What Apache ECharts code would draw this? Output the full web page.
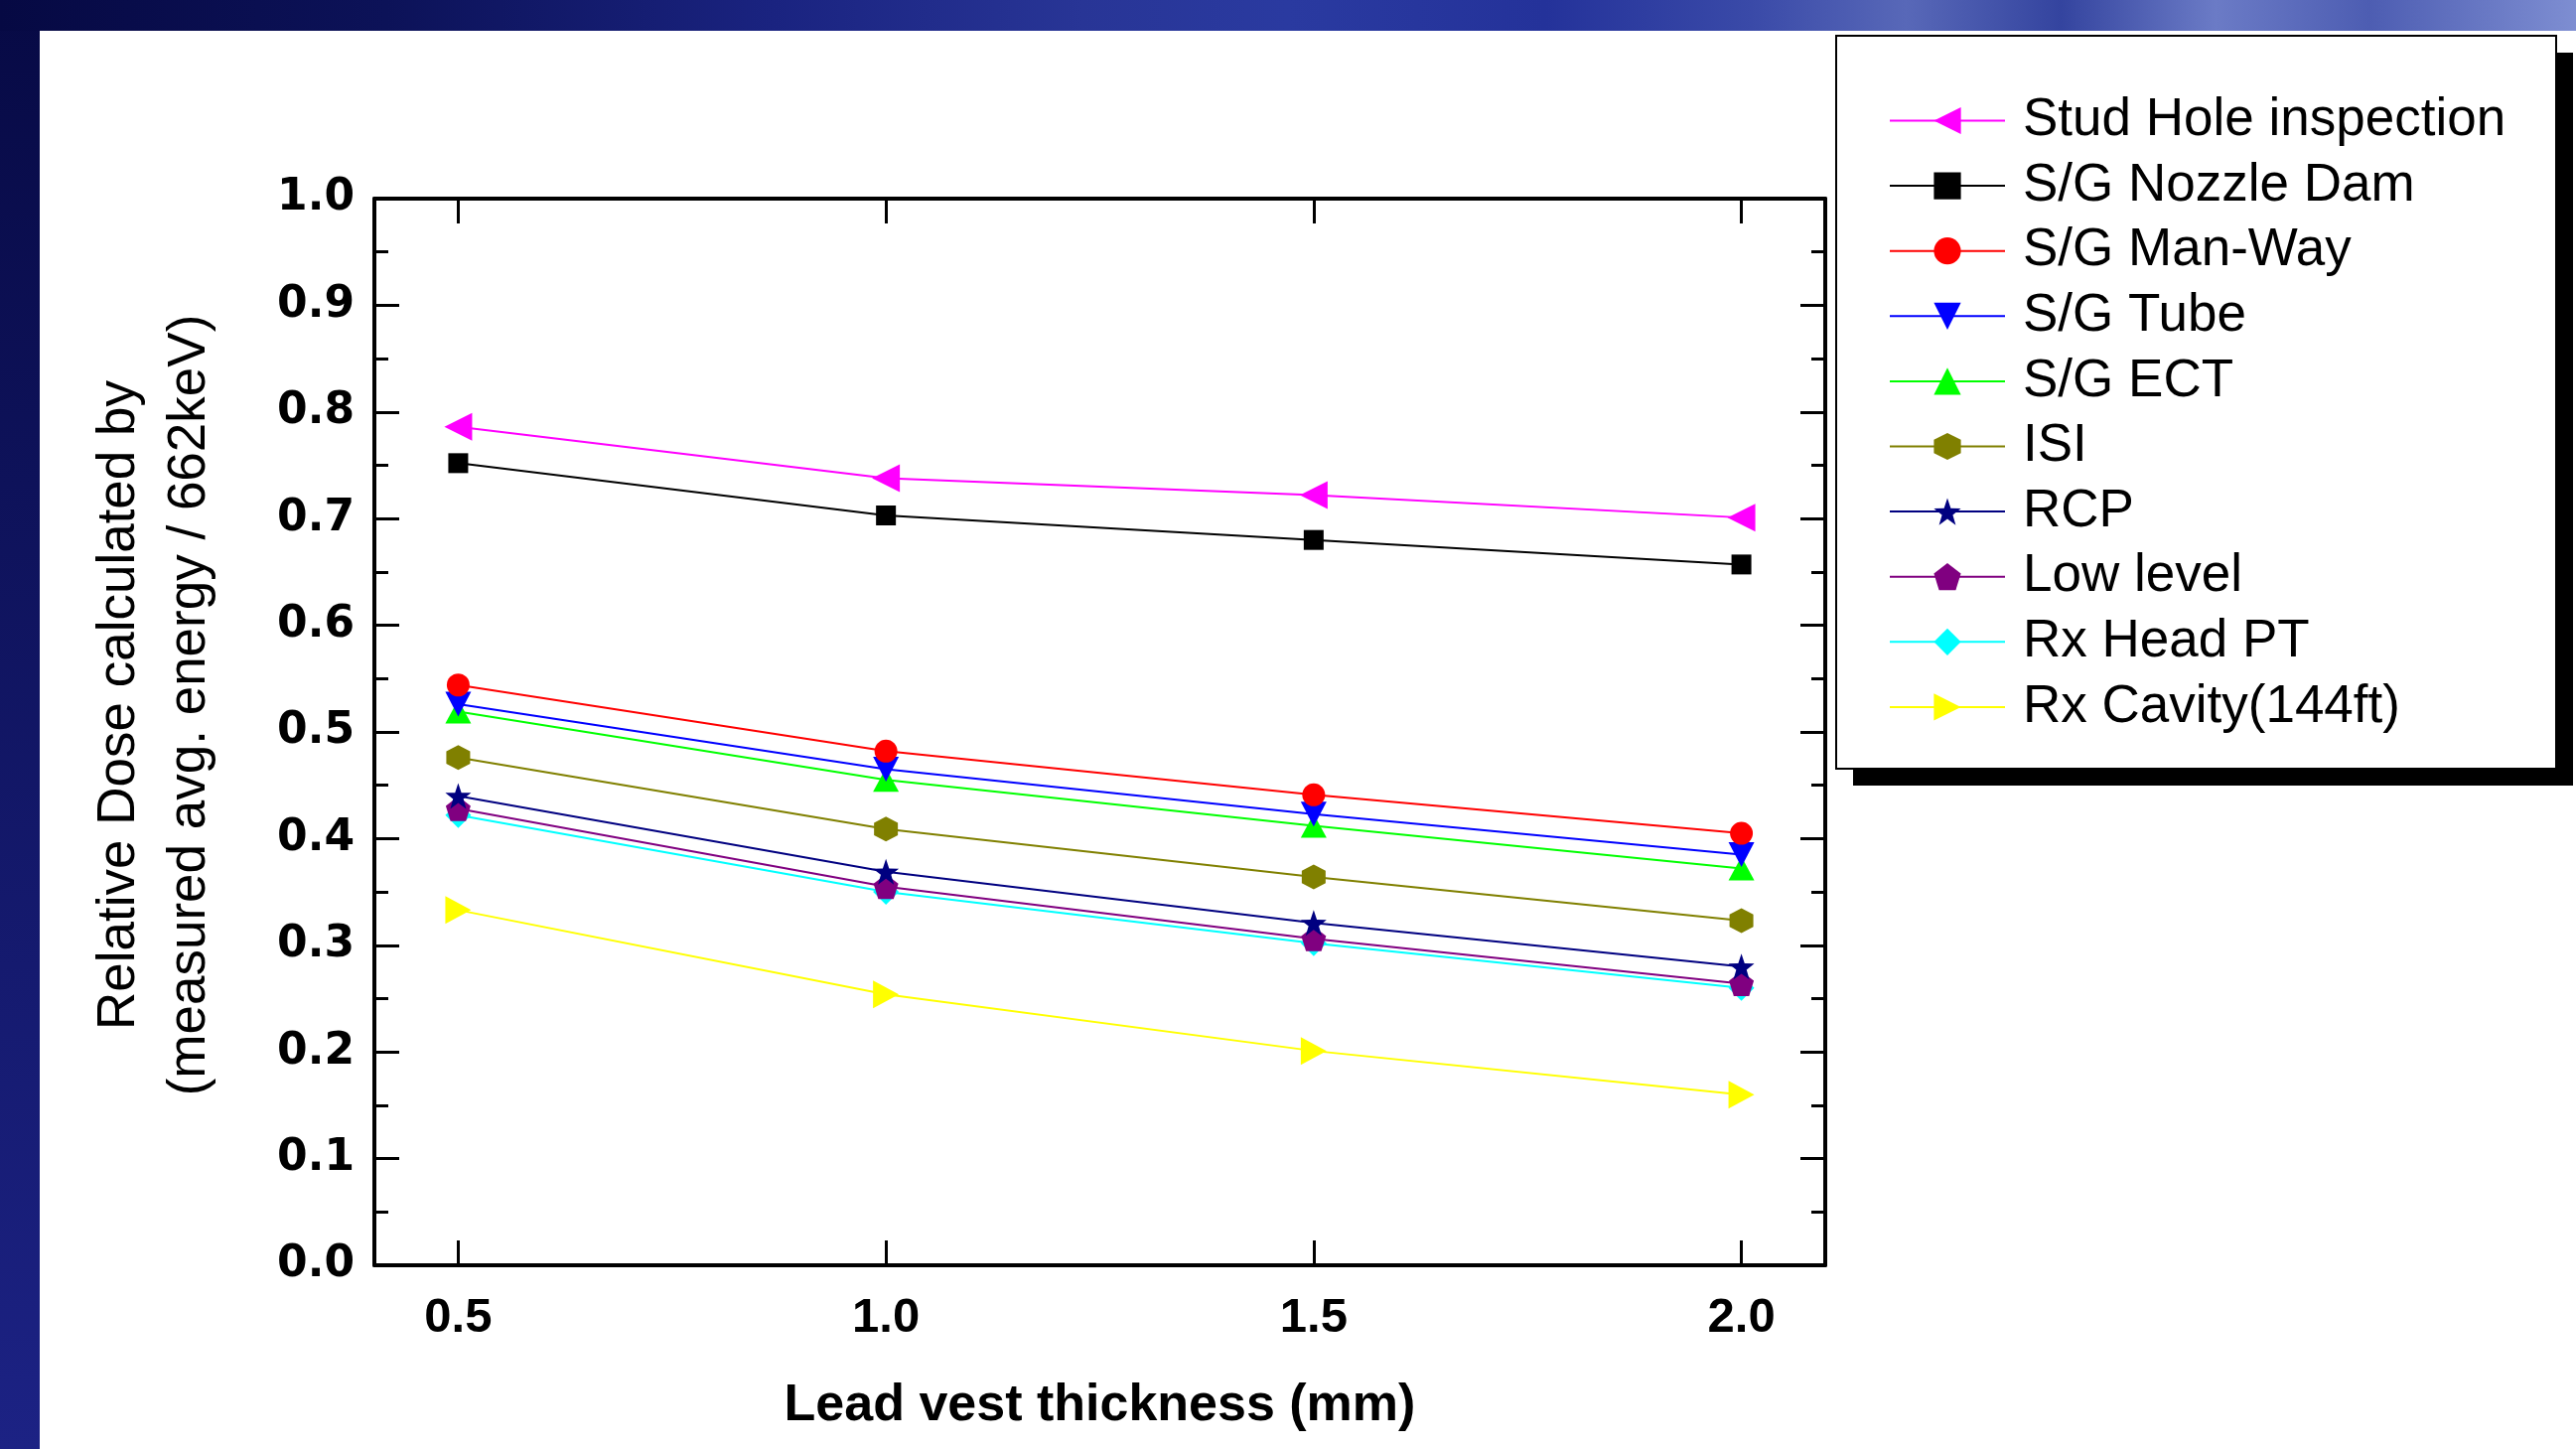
<!DOCTYPE html>
<html><head><meta charset="utf-8">
<script src="https://cdn.jsdelivr.net/npm/echarts@6/dist/echarts.min.js"></script>
<style>html,body{margin:0;padding:0;background:#0b1055;}#chart{width:2594px;height:1459px;}</style>
</head><body><div id="chart"></div>
<script>
// ---- data ----
const thickness = [0.5, 1.0, 1.5, 2.0];
const xTickValues = [0.5, 1.0, 1.5, 2.0];
const seriesNames = ['Stud Hole inspection', 'S/G Nozzle Dam', 'S/G Man-Way', 'S/G Tube', 'S/G ECT', 'ISI', 'RCP', 'Low level', 'Rx Head PT', 'Rx Cavity(144ft)'];
const studHole  = [0.786, 0.738, 0.722, 0.701];
const nozzleDam = [0.752, 0.703, 0.680, 0.657];
const manWay    = [0.544, 0.482, 0.441, 0.405];
const sgTube    = [0.526, 0.465, 0.423, 0.385];
const sgECT     = [0.519, 0.455, 0.412, 0.372];
const isi       = [0.476, 0.409, 0.364, 0.323];
const rcp       = [0.440, 0.369, 0.321, 0.280];
const lowLevel  = [0.428, 0.355, 0.306, 0.264];
const rxHeadPT  = [0.422, 0.350, 0.302, 0.260];
const rxCavity  = [0.333, 0.254, 0.201, 0.160];

const seriesValues = [studHole, nozzleDam, manWay, sgTube, sgECT, isi, rcp, lowLevel, rxHeadPT, rxCavity];
const colors = ['#ff00ff', '#000000', '#ff0000', '#0000ff', '#00ff00', '#808000', '#000080', '#800080', '#00ffff', '#ffff00'];
const HEX = 'path://M0,-10 L8.66,-5 L8.66,5 L0,10 L-8.66,5 L-8.66,-5 Z';
const PENT = 'path://M0,-10 L9.51,-3.09 L5.88,8.09 L-5.88,8.09 L-9.51,-3.09 Z';
const STAR = 'path://M0,-10 L2.35,-3.24 L9.51,-3.09 L3.8,1.24 L5.88,8.09 L0,4 L-5.88,8.09 L-3.8,1.24 L-9.51,-3.09 L-2.35,-3.24 Z';
const symbols = [
  {symbol: 'triangle', rotate: 90, size: [28, 28]},
  {symbol: 'rect', rotate: 0, size: 20},
  {symbol: 'circle', rotate: 0, size: 23},
  {symbol: 'triangle', rotate: 180, size: [26, 25]},
  {symbol: 'triangle', rotate: 0, size: [26, 24]},
  {symbol: HEX, rotate: 0, size: [24, 25]},
  {symbol: STAR, rotate: 0, size: 26},
  {symbol: PENT, rotate: 0, size: 25},
  {symbol: 'diamond', rotate: 0, size: 26},
  {symbol: 'triangle', rotate: -90, size: [28, 26]}
];

const chart = echarts.init(document.getElementById('chart'), null, {renderer: 'canvas'});

const series = [];
for (let i = seriesNames.length - 1; i >= 0; i--) {
  series.push({
    name: seriesNames[i],
    type: 'line',
    data: thickness.map((x, k) => [x, seriesValues[i][k]]),
    symbol: symbols[i].symbol,
    symbolRotate: symbols[i].rotate,
    symbolSize: symbols[i].size,
    showSymbol: true,
    itemStyle: {color: colors[i], opacity: 1},
    lineStyle: {color: colors[i], width: 2},
    emphasis: {disabled: true},
    animation: false
  });
}

const axisLineStyle = {color: '#000', width: 4};
const tickStyle = {color: '#000', width: 3};

const option = {
  backgroundColor: 'transparent',
  animation: false,
  graphic: [
    {type: 'rect', z: -20, shape: {x: 0, y: 0, width: 2594, height: 1459},
     style: {fill: new echarts.graphic.LinearGradient(0, 0, 0, 1, [
       {offset: 0, color: '#070a45'}, {offset: 1, color: '#1c2284'}])}},
    {type: 'rect', z: -19, shape: {x: 0, y: 0, width: 2594, height: 31},
     style: {fill: new echarts.graphic.LinearGradient(0, 0, 1, 0, [
       {offset: 0, color: '#060943'}, {offset: 0.15, color: '#0c1258'},
       {offset: 0.3, color: '#1a2380'}, {offset: 0.42, color: '#283596'},
       {offset: 0.5, color: '#2a3aa0'}, {offset: 0.6, color: '#24329a'},
       {offset: 0.68, color: '#3a4aa8'}, {offset: 0.74, color: '#5868b8'},
       {offset: 0.8, color: '#34449f'}, {offset: 0.86, color: '#6b7bc6'},
       {offset: 0.92, color: '#4d5db2'}, {offset: 1, color: '#7e8ed2'}])}},
    {type: 'rect', z: -18, shape: {x: 40, y: 31, width: 2554, height: 1428},
     style: {fill: '#ffffff'}},
    // legend frame with its solid drop shadow
    {type: 'rect', z: -17, shape: {x: 1866, y: 53, width: 725, height: 738},
     style: {fill: '#000000'}},
    {type: 'rect', z: -16, shape: {x: 1849, y: 36, width: 725, height: 738},
     style: {fill: '#ffffff', stroke: '#000000', lineWidth: 2}}
  ],
  legend: {
    orient: 'vertical',
    left: 1849,
    top: 36,
    data: seriesNames,
    itemWidth: 116,
    itemHeight: 34,
    itemGap: 12.6,
    padding: [59, 40, 40, 53],
    backgroundColor: 'transparent',
    borderWidth: 0,
    selectedMode: false,
    textStyle: {fontFamily: 'Liberation Sans', fontSize: 53, lineHeight: 52, color: '#000', padding: [0, 0, 0, 13]}
  },
  grid: {left: 377, right: 756, top: 200, bottom: 185, containLabel: false},
  xAxis: [{
    type: 'value', position: 'bottom', min: 0.402, max: 2.098,
    axisLine: {show: true, onZero: false, lineStyle: axisLineStyle},
    axisTick: {show: true, inside: true, length: 25, lineStyle: tickStyle, customValues: xTickValues},
    axisLabel: {show: true, customValues: xTickValues, formatter: v => v.toFixed(1),
      fontFamily: 'Liberation Sans', fontWeight: 'bold', fontSize: 49, color: '#000', margin: 29},
    splitLine: {show: false},
    name: 'Lead vest thickness (mm)', nameLocation: 'middle', nameGap: 116,
    nameTextStyle: {fontFamily: 'Liberation Sans', fontWeight: 'bold', fontSize: 52, color: '#000'}
  }, {
    type: 'value', position: 'top', min: 0.402, max: 2.098,
    axisLine: {show: true, onZero: false, lineStyle: axisLineStyle},
    axisTick: {show: true, inside: true, length: 25, lineStyle: tickStyle, customValues: xTickValues},
    axisLabel: {show: false},
    splitLine: {show: false}
  }],
  yAxis: [{
    type: 'value', position: 'left', min: 0, max: 1, interval: 0.1,
    axisLine: {show: true, onZero: false, lineStyle: axisLineStyle},
    axisTick: {show: true, inside: true, length: 25, lineStyle: tickStyle},
    minorTick: {show: true, splitNumber: 2, length: 14, lineStyle: tickStyle},
    axisLabel: {show: true, formatter: v => v.toFixed(1), fontFamily: 'DejaVu Sans', fontWeight: 'bold',
      fontSize: 44, color: '#000', margin: 20},
    splitLine: {show: false},
    name: 'Relative Dose calculated by\n(measured avg. energy / 662keV)',
    nameLocation: 'middle', nameRotate: 90, nameGap: 150,
    nameTextStyle: {fontFamily: 'Liberation Sans', fontSize: 53, lineHeight: 71, color: '#000', padding: [0, 0, 0, 54]}
  }, {
    type: 'value', position: 'right', min: 0, max: 1, interval: 0.1,
    axisLine: {show: true, onZero: false, lineStyle: axisLineStyle},
    axisTick: {show: true, inside: true, length: 25, lineStyle: tickStyle},
    minorTick: {show: true, splitNumber: 2, length: 14, lineStyle: tickStyle},
    axisLabel: {show: false},
    splitLine: {show: false}
  }],
  series: series
};
chart.setOption(option);
</script>
</body></html>
